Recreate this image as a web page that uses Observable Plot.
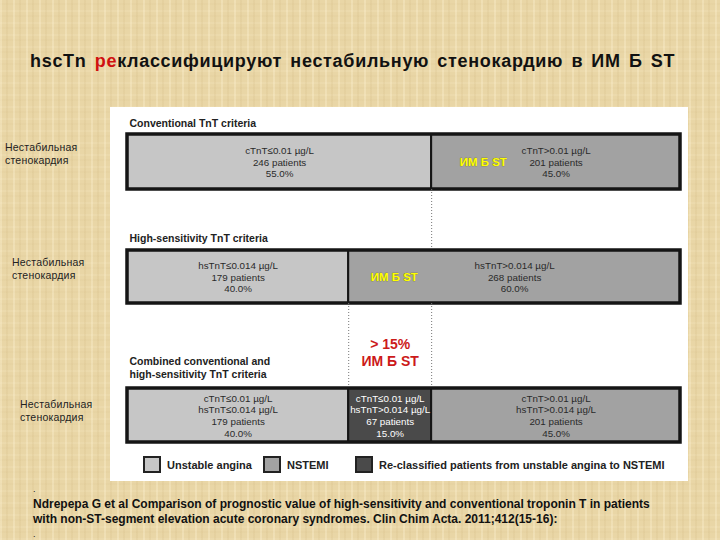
<!DOCTYPE html>
<html>
<head>
<meta charset="utf-8">
<script src="https://cdn.jsdelivr.net/npm/d3@7"></script>
<script src="https://cdn.jsdelivr.net/npm/@observablehq/plot@0.6"></script>
<style>
  html, body { margin: 0; padding: 0; }
  body {
    width: 720px; height: 540px; position: relative; overflow: hidden;
    font-family: "Liberation Sans", Arial, sans-serif;
    background-color: #e9d6a6;
    background-image:
      repeating-linear-gradient(90deg, rgba(255,245,215,0.30) 0 2px, rgba(0,0,0,0) 2px 6px, rgba(190,160,100,0.10) 6px 8px, rgba(0,0,0,0) 8px 13px),
      repeating-linear-gradient(0deg, rgba(255,245,215,0.12) 0 2px, rgba(0,0,0,0) 2px 7px, rgba(190,160,100,0.05) 7px 9px, rgba(0,0,0,0) 9px 12px);
  }
  .abs { position: absolute; }
  #title { left: 30px; top: 51px; font-size: 18px; font-weight: bold; color: #111; white-space: nowrap; letter-spacing: 0.7px; word-spacing: 2.5px; }
  #title .red { color: #d01010; }
  #panel { left: 110px; top: 107px; width: 578px; height: 374px; background: #fff; }
  .rowlab { font-size: 10.5px; color: #222; line-height: 12.5px; letter-spacing: 0.2px; }
  .legitem { display: flex; align-items: center; font-size: 11px; font-weight: bold; color: #222; }
  .legsw { width: 14px; height: 13px; border: 2px solid #222; margin-right: 6px; }
  #caption { left: 33px; top: 482px; font-family: "Liberation Sans Narrow", "Liberation Sans", Arial, sans-serif; font-size: 12px; font-weight: bold; color: #111; line-height: 15px; white-space: nowrap; }
  svg.plot { overflow: visible; }
</style>
</head>
<body>
<div id="panel" class="abs"></div>
<div id="title" class="abs"></div>
<div id="caption" class="abs"></div>
<script>
// ---------------- data ----------------
const titleParts = ["hscTn ", "ре", "классифицируют нестабильную стенокардию в ИМ Б ST"];
const sectionTitles = [
  "Conventional TnT criteria",
  "High-sensitivity TnT criteria",
  "Combined conventional and\nhigh-sensitivity TnT criteria"
];
const rowLabel = "Нестабильная\nстенокардия";
const categories = ["Unstable angina", "NSTEMI", "Re-classified patients from unstable angina to NSTEMI"];
const categoryColors = ["#c6c6c6", "#a2a2a2", "#4a4a4a"];

const segSection = [0, 0, 1, 1, 2, 2, 2];
const segCategory = [0, 1, 0, 1, 0, 2, 1];
const segCriterion = [
  "cTnT≤0.01 µg/L",
  "cTnT>0.01 µg/L",
  "hsTnT≤0.014 µg/L",
  "hsTnT>0.014 µg/L",
  "cTnT≤0.01 µg/L\nhsTnT≤0.014 µg/L",
  "cTnT≤0.01 µg/L\nhsTnT>0.014 µg/L",
  "cTnT>0.01 µg/L\nhsTnT>0.014 µg/L"
];
const segPatients = [246, 201, 179, 268, 179, 67, 201];
const segPercent = [55.0, 45.0, 40.0, 60.0, 40.0, 15.0, 45.0];

const nstemiLabel = "ИМ Б ST";          // yellow label in NSTEMI segment (sections 0 and 1)
const reclassNote = "> 15%\nИМ Б ST";     // red note above the re-classified segment
const captionLines = [
  ".",
  "Ndrepepa G et al Comparison of prognostic value of high-sensitivity and conventional troponin T in patients",
  "with non-ST-segment elevation acute coronary syndromes. Clin Chim Acta. 2011;412(15-16):",
  "."
];

// ---------------- build segments ----------------
const segments = [];
{
  const cum = [0, 0, 0];
  segPercent.forEach((p, i) => {
    const s = segSection[i];
    segments.push({
      section: s,
      cat: segCategory[i],
      x1: cum[s],
      x2: cum[s] + p,
      label: `${segCriterion[i]}\n${segPatients[i]} patients\n${p.toFixed(1)}%`
    });
    cum[s] += p;
  });
}

// ---------------- title / caption ----------------
const t = document.getElementById("title");
titleParts.forEach((s, i) => {
  const sp = document.createElement("span");
  sp.textContent = s;
  if (i === 1) sp.className = "red";
  t.appendChild(sp);
});
const cap = document.getElementById("caption");
captionLines.forEach(l => {
  const d = document.createElement("div");
  d.textContent = l;
  if (l === ".") { d.style.fontWeight = "normal"; d.style.fontSize = "9px"; }
  cap.appendChild(d);
});

// ---------------- layout (page pixels) ----------------
const layout = [
  {top: 100, height: 89,  barTop: 34, titleDy: 22,   rowLabel: {left: 5,  top: 141}},
  {top: 189, height: 114, barTop: 61, titleDy: 48,   rowLabel: {left: 12, top: 256}},
  {top: 303, height: 139, barTop: 85, titleDy: 63.5, rowLabel: {left: 20, top: 398}}
];

const color = d3.scaleOrdinal().domain(d3.range(categories.length)).range(categoryColors);

layout.forEach((L, s) => {
  const segs = segments.filter(d => d.section === s);
  const half = L.barTop + (L.height - L.barTop) / 2;  // bar center from top
  const frameMid = L.height / 2;
  const marks = [];

  // dotted dividers coming down from previous bars
  const dividers = [];
  for (let k = 0; k < s; k++) {
    segments.filter(d => d.section === k && d.x1 > 0).forEach(d => dividers.push(d.x1));
  }
  if (dividers.length) {
    marks.push(Plot.ruleX(dividers, {stroke: "#777", strokeDasharray: "1,2", strokeWidth: 1}));
  }

  // segments
  marks.push(Plot.barX(segs, {
    x1: "x1", x2: "x2", insetTop: L.barTop,
    fill: d => color(d.cat), stroke: "#151515", strokeWidth: 2
  }));
  // outer border
  marks.push(Plot.barX([{x1: 0, x2: d3.sum(segs, d => d.x2 - d.x1)}], {
    x1: "x1", x2: "x2", insetTop: L.barTop,
    fill: "none", stroke: "#151515", strokeWidth: 3.5
  }));
  // segment labels
  marks.push(Plot.text(segs, {
    x: d => (d.x1 + d.x2) / 2,
    frameAnchor: "middle", lineAnchor: "middle", dy: half - frameMid,
    text: "label", fontSize: 9.8, lineHeight: 1.18,
    fill: d => d.cat === 2 ? "#fff" : "#2a2a2a",
    fontWeight: d => d.cat === 2 ? "bold" : "normal"
  }));
  // yellow "ИМ Б ST" in the NSTEMI segment
  if (s < 2) {
    const ns = segs.filter(d => d.cat === 1);
    marks.push(Plot.text(ns, {
      x: "x1", frameAnchor: "middle", lineAnchor: "middle", dy: half - frameMid, dx: s === 0 ? 28 : 22,
      textAnchor: "start", text: () => nstemiLabel,
      fill: "#ffff00", stroke: "#77771a", strokeWidth: 0.5, paintOrder: "stroke",
      fontSize: 11.5, fontWeight: "bold"
    }));
  }
  // red note over the re-classified segment
  if (s === 2) {
    const rc = segs.filter(d => d.cat === 2);
    marks.push(Plot.text(rc, {
      x: d => (d.x1 + d.x2) / 2, frameAnchor: "top", lineAnchor: "middle", dy: 48.5,
      text: () => reclassNote, fill: "#cc1a1a", fontSize: 14, fontWeight: "bold", lineHeight: 1.2
    }));
  }
  // section title
  marks.push(Plot.text([sectionTitles[s]], {
    frameAnchor: "top-left", lineAnchor: "middle", dx: 2, dy: L.titleDy, textAnchor: "start",
    fontSize: 10.5, fontWeight: "bold", fill: "#222", lineHeight: 1.25
  }));

  const chart = Plot.plot({
    width: 578, height: L.height,
    marginLeft: 17, marginRight: 8, marginTop: 0, marginBottom: 0,
    x: {domain: [0, 100], axis: null},
    style: {background: "transparent", overflow: "visible", fontFamily: "Liberation Sans, Arial, sans-serif"},
    marks
  });
  chart.classList.add("abs");
  chart.style.left = "110px";
  chart.style.top = L.top + "px";
  chart.style.position = "absolute";
  document.body.appendChild(chart);

  // left row label
  const rl = document.createElement("div");
  rl.className = "abs rowlab";
  rl.style.left = L.rowLabel.left + "px";
  rl.style.top = L.rowLabel.top + "px";
  rl.innerHTML = rowLabel.replace("\n", "<br>");
  document.body.appendChild(rl);
});

// ---------------- legend ----------------
const legendLeft = [143, 263, 355];
categories.forEach((c, i) => {
  const it = document.createElement("div");
  it.className = "abs legitem";
  it.style.left = legendLeft[i] + "px";
  it.style.top = "456px";
  const sw = document.createElement("div");
  sw.className = "legsw";
  sw.style.background = categoryColors[i];
  const tx = document.createElement("span");
  tx.textContent = c;
  it.appendChild(sw); it.appendChild(tx);
  document.body.appendChild(it);
});
</script>
</body>
</html>
